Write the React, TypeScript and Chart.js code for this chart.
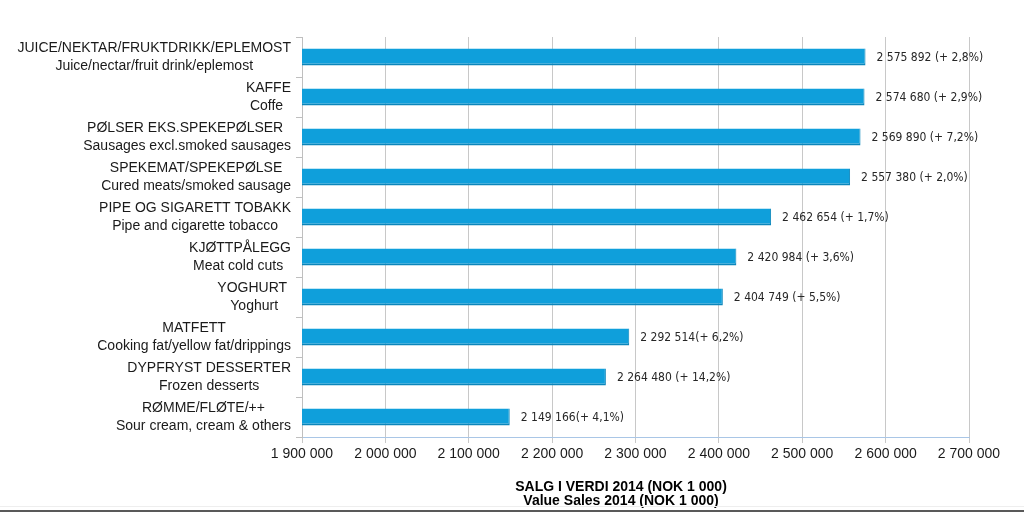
import React, { useEffect, useRef } from "react";
import { Chart, registerables } from "chart.js";

Chart.register(...registerables);

const categoriesNo = [
  "JUICE/NEKTAR/FRUKTDRIKK/EPLEMOST",
  "KAFFE",
  "PØLSER EKS.SPEKEPØLSER ",
  "SPEKEMAT/SPEKEPØLSE",
  "PIPE OG SIGARETT TOBAKK",
  "KJØTTPÅLEGG",
  "YOGHURT ",
  "MATFETT",
  "DYPFRYST DESSERTER",
  "RØMME/FLØTE/++",
];

const categoriesEn = [
  "Juice/nectar/fruit drink/eplemost",
  "Coffe ",
  "Sausages excl.smoked sausages",
  "Cured meats/smoked sausage",
  "Pipe and cigarette tobacco",
  "Meat cold cuts ",
  "Yoghurt",
  "Cooking fat/yellow fat/drippings",
  "Frozen desserts",
  "Sour cream, cream & others",
];

const salesValues = [2575892, 2574680, 2569890, 2557380, 2462654, 2420984, 2404749, 2292514, 2264480, 2149166];

const valueLabels = [
  "2 575 892 (+ 2,8%)",
  "2 574 680 (+ 2,9%)",
  "2 569 890 (+ 7,2%)",
  "2 557 380 (+ 2,0%)",
  "2 462 654 (+ 1,7%)",
  "2 420 984 (+ 3,6%)",
  "2 404 749 (+ 5,5%)",
  "2 292 514(+ 6,2%)",
  "2 264 480 (+ 14,2%)",
  "2 149 166(+ 4,1%)",
];

const xMin = 1900000;
const xMax = 2700000;
const xStep = 100000;

const axisTitleLines = ["SALG I VERDI 2014 (NOK 1 000)", "Value Sales 2014 (NOK 1 000)"];

const fmt = (v: number) => String(Math.round(v)).replace(/\B(?=(\d{3})+(?!\d))/g, " ");

export default function App() {
  const ref = useRef<HTMLCanvasElement>(null);
  useEffect(() => {
    if (!ref.current) return;
    const labelsPlugin = {
      id: "customLabels",
      afterDatasetsDraw(chart: any) {
        const ctx = chart.ctx;
        const meta = chart.getDatasetMeta(0);
        ctx.save();
        // value labels
        ctx.font = '12px "DejaVu Sans Condensed", "DejaVu Sans", sans-serif';
        ctx.fillStyle = "#262626";
        ctx.textAlign = "left";
        ctx.textBaseline = "middle";
        meta.data.forEach((bar: any, i: number) => {
          ctx.fillText(valueLabels[i], bar.x + 11, bar.y + 1);
        });
        // category labels (two lines, centered block, right aligned)
        ctx.font = '14px "Liberation Sans", Arial, sans-serif';
        ctx.fillStyle = "#1a1a1a";
        ctx.textAlign = "center";
        const yScale = chart.scales.y;
        const right = 291;
        categoriesNo.forEach((c, i) => {
          const y = yScale.getPixelForValue(i);
          const l1 = c;
          const l2 = categoriesEn[i];
          const w = Math.max(ctx.measureText(l1).width, ctx.measureText(l2).width);
          const cx = right - w / 2;
          ctx.fillText(l1, cx, y - 9);
          ctx.fillText(l2, cx, y + 9);
        });
        // axis title
        ctx.font = 'bold 14px "Liberation Sans", Arial, sans-serif';
        ctx.fillStyle = "#000000";
        ctx.fillText(axisTitleLines[0], 621, 487);
        ctx.fillText(axisTitleLines[1], 621, 501);
        // bottom frame line
        ctx.fillStyle = "#eeeeee";
        ctx.fillRect(0, 506, 1024, 1);
        ctx.fillStyle = "#595959";
        ctx.fillRect(0, 510, 1024, 2);
        ctx.restore();
      },
    };
    const chart = new Chart(ref.current, {
      type: "bar",
      data: {
        labels: categoriesNo,
        datasets: [
          {
            data: salesValues,
            backgroundColor: "#0f9fdb",
            borderColor: "#0b86bb",
            borderWidth: { top: 0, left: 0, right: 1, bottom: 2 },
            borderSkipped: false,
            categoryPercentage: 1,
            barPercentage: 0.42,
          },
        ],
      },
      options: {
        indexAxis: "y",
        animation: false,
        responsive: false,
        devicePixelRatio: 1,
        layout: { padding: { left: 0, right: 55, top: 37, bottom: 0 } },
        plugins: { legend: { display: false }, tooltip: { enabled: false } },
        scales: {
          x: {
            type: "linear",
            min: xMin,
            max: xMax,
            ticks: {
              stepSize: xStep,
              callback: (v: any) => fmt(Number(v)),
              font: { family: '"Liberation Sans", Arial, sans-serif', size: 14 },
              color: "#1a1a1a",
              padding: 3,
              maxRotation: 0,
            },
            grid: { color: "#c8c8c8", tickLength: 6, tickColor: "#c8c8c8" },
            border: { color: "#a9c6e6" },
            afterFit: (s: any) => {
              s.height = 75;
            },
          },
          y: {
            type: "category",
            ticks: { display: false },
            grid: { drawOnChartArea: false, tickLength: 6, color: "#bfbfbf", offset: true },
            border: { color: "#bfbfbf" },
            afterFit: (s: any) => {
              s.width = 302;
            },
          },
        },
      },
      plugins: [labelsPlugin],
    } as any);
    return () => chart.destroy();
  }, []);
  return (
    <div style={{ position: "absolute", left: 0, top: 0, width: 1024, height: 512, background: "#fff" }}>
      <canvas ref={ref} width={1024} height={512} />
    </div>
  );
}
